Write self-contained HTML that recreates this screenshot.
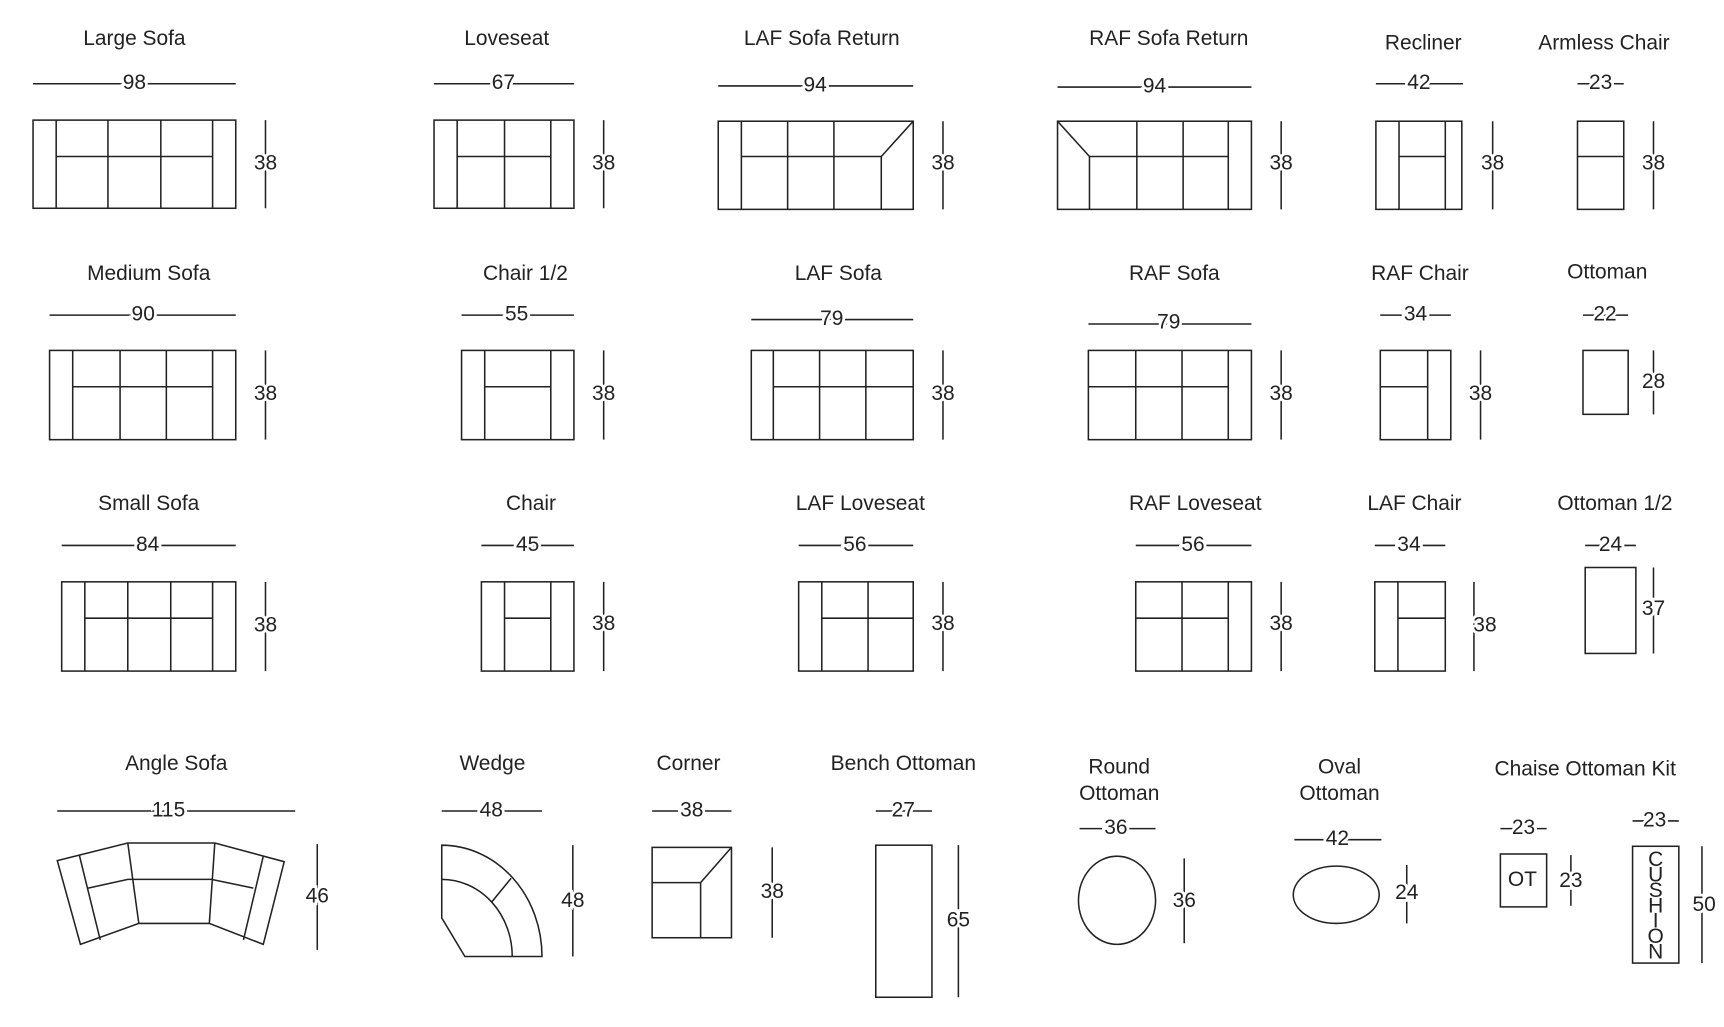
<!DOCTYPE html>
<html><head><meta charset="utf-8"><style>
html,body{margin:0;padding:0;background:#fff}
svg{display:block}
text{font-family:"Liberation Sans",sans-serif;font-size:19px;fill:#222;text-anchor:middle;dominant-baseline:central}
.d{paint-order:stroke;stroke:#fff;stroke-width:5px}
.s{font-size:12px}
</style></head><body>
<svg width="1724" height="1027" viewBox="0 0 1565 932" preserveAspectRatio="none" xmlns="http://www.w3.org/2000/svg">
<g fill="none" stroke="#222" stroke-width="1.4">
<!-- Row 1 -->
<rect x="30" y="109" width="184" height="80"/><path d="M51 109V189M193 109V189M51 142H193M98 109V189M146 109V189M30 76H214M241 109V189"/>
<rect x="394" y="109" width="127" height="80"/><path d="M415 109V189M500 109V189M415 142H500M458 109V189M394 76H521M548 109V189"/>
<rect x="652" y="110" width="177" height="80"/><path d="M673 110V190M715 110V190M757 110V190M673 142H800M800 142V190M800 142L829 110M652 78H829M856 110V190"/>
<rect x="960" y="110" width="176" height="80"/><path d="M1115 110V190M1032 110V190M1074 110V190M989 142H1115M989 142V190M960 110L989 142M960 79H1136M1163 110V190"/>
<rect x="1249" y="110" width="78" height="80"/><path d="M1270 110V190M1312 110V190M1270 142H1312M1249 76H1328M1355 110V190"/>
<rect x="1432" y="110" width="42" height="80"/><path d="M1432 142H1474M1432 76H1474M1501 110V190"/>
<!-- Row 2 -->
<rect x="45" y="318" width="169" height="81"/><path d="M66 318V399M193 318V399M109 318V399M151 318V399M66 351H193M45 286H214M241 318V399"/>
<rect x="419" y="318" width="102" height="81"/><path d="M440 318V399M500 318V399M440 351H500M419 286H521M548 318V399"/>
<rect x="682" y="318" width="147" height="81"/><path d="M702 318V399M744 318V399M786 318V399M702 351H829M682 290H829M856 318V399"/>
<rect x="988" y="318" width="148" height="81"/><path d="M1115 318V399M1031 318V399M1073 318V399M988 351H1115M988 294H1136M1163 318V399"/>
<rect x="1253" y="318" width="64" height="81"/><path d="M1296 318V399M1253 351H1296M1253 286H1317M1344 318V399"/>
<rect x="1437" y="318" width="41" height="58"/><path d="M1437 286H1478M1501 318V376"/>
<!-- Row 3 -->
<rect x="56" y="528" width="158" height="81"/><path d="M77 528V609M193 528V609M116 528V609M155 528V609M77 561H193M56 495H214M241 528V609"/>
<rect x="437" y="528" width="84" height="81"/><path d="M458 528V609M500 528V609M458 561H500M437 495H521M548 528V609"/>
<rect x="725" y="528" width="104" height="81"/><path d="M746 528V609M788 528V609M746 561H829M725 495H829M856 528V609"/>
<rect x="1031" y="528" width="105" height="81"/><path d="M1115 528V609M1073 528V609M1031 561H1115M1031 495H1136M1163 528V609"/>
<rect x="1248" y="528" width="64" height="81"/><path d="M1269 528V609M1269 561H1312M1248 495H1312M1338 528V609"/>
<rect x="1439" y="515" width="46" height="78"/><path d="M1439 495H1485M1501 515V593"/>
<!-- Row 4 -->
<path d="M52 781L116 765H195L258 782L239 857L190 838H126L73 857Z"/>
<path d="M72 776L91 853M239 777L221 853M116 765L126 838M195 765L190 838M80 806L116 798H192L230 806M52 736H268M288 766V862"/>
<path d="M401 767A91 101 0 0 1 492 868H422L401 833Z"/>
<path d="M401 798A64 70 0 0 1 465 868M446 819L464 797M401 736H492M520 767V868"/>
<rect x="592" y="769" width="72" height="82"/><path d="M636 801V851M592 801H636M636 801L664 769M592 736H664M701 769V851"/>
<rect x="795" y="767" width="51" height="138"/><path d="M795 736H846M870 767V905"/>
<ellipse cx="1014" cy="817" rx="35" ry="40"/><path d="M980 752H1049M1075 779V856"/>
<ellipse cx="1213" cy="812" rx="39" ry="26"/><path d="M1175 762H1254M1277 785V838"/>
<rect x="1362" y="775" width="42" height="48"/><path d="M1362 752H1404M1426 776V822"/>
<rect x="1482" y="768" width="42" height="106"/><path d="M1482 745H1524M1545 768V874"/>
</g>
<!-- titles -->
<text x="122" y="35">Large Sofa</text><text x="460" y="35">Loveseat</text><text x="746" y="35">LAF Sofa Return</text><text x="1061" y="35">RAF Sofa Return</text><text x="1292" y="39">Recliner</text><text x="1456" y="39">Armless Chair</text>
<text x="135" y="248">Medium Sofa</text><text x="477" y="248">Chair 1/2</text><text x="761" y="248">LAF Sofa</text><text x="1066" y="248">RAF Sofa</text><text x="1289" y="248">RAF Chair</text><text x="1459" y="247">Ottoman</text>
<text x="135" y="457">Small Sofa</text><text x="482" y="457">Chair</text><text x="781" y="457">LAF Loveseat</text><text x="1085" y="457">RAF Loveseat</text><text x="1284" y="457">LAF Chair</text><text x="1466" y="457">Ottoman 1/2</text>
<text x="160" y="693">Angle Sofa</text><text x="447" y="693">Wedge</text><text x="625" y="693">Corner</text><text x="820" y="693">Bench Ottoman</text>
<text x="1016" y="696">Round</text><text x="1016" y="720">Ottoman</text><text x="1216" y="696">Oval</text><text x="1216" y="720">Ottoman</text><text x="1439" y="698">Chaise Ottoman Kit</text>
<!-- dims -->
<g class="d">
<text x="122" y="75">98</text><text x="457" y="75">67</text><text x="740" y="77">94</text><text x="1048" y="78">94</text><text x="1288" y="75">42</text><text x="1453" y="75">23</text>
<text x="241" y="148">38</text><text x="548" y="148">38</text><text x="856" y="148">38</text><text x="1163" y="148">38</text><text x="1355" y="148">38</text><text x="1501" y="148">38</text>
<text x="130" y="285">90</text><text x="469" y="285">55</text><text x="755" y="289">79</text><text x="1061" y="292">79</text><text x="1285" y="285">34</text><text x="1457" y="285">22</text>
<text x="241" y="357">38</text><text x="548" y="357">38</text><text x="856" y="357">38</text><text x="1163" y="357">38</text><text x="1344" y="357">38</text><text x="1501" y="346">28</text>
<text x="134" y="494">84</text><text x="479" y="494">45</text><text x="776" y="494">56</text><text x="1083" y="494">56</text><text x="1279" y="494">34</text><text x="1462" y="494">24</text>
<text x="241" y="567">38</text><text x="548" y="566">38</text><text x="856" y="566">38</text><text x="1163" y="566">38</text><text x="1348" y="567">38</text><text x="1501" y="552">37</text>
<text x="153" y="735">115</text><text x="446" y="735">48</text><text x="628" y="735">38</text><text x="820" y="735">27</text><text x="1013" y="751">36</text><text x="1214" y="761">42</text><text x="1383" y="751">23</text><text x="1502" y="744">23</text>
<text x="288" y="813">46</text><text x="520" y="817">48</text><text x="701" y="809">38</text><text x="870" y="835">65</text><text x="1075" y="817">36</text><text x="1277" y="810">24</text><text x="1426" y="799">23</text><text x="1547" y="821">50</text>
</g>
<text x="1382" y="798">OT</text>
<g class="s"><text x="1503" y="780">C</text><text x="1503" y="794">U</text><text x="1503" y="808">S</text><text x="1503" y="822">H</text><text x="1503" y="836">I</text><text x="1503" y="850">O</text><text x="1503" y="864">N</text></g>
</svg>
</body></html>
